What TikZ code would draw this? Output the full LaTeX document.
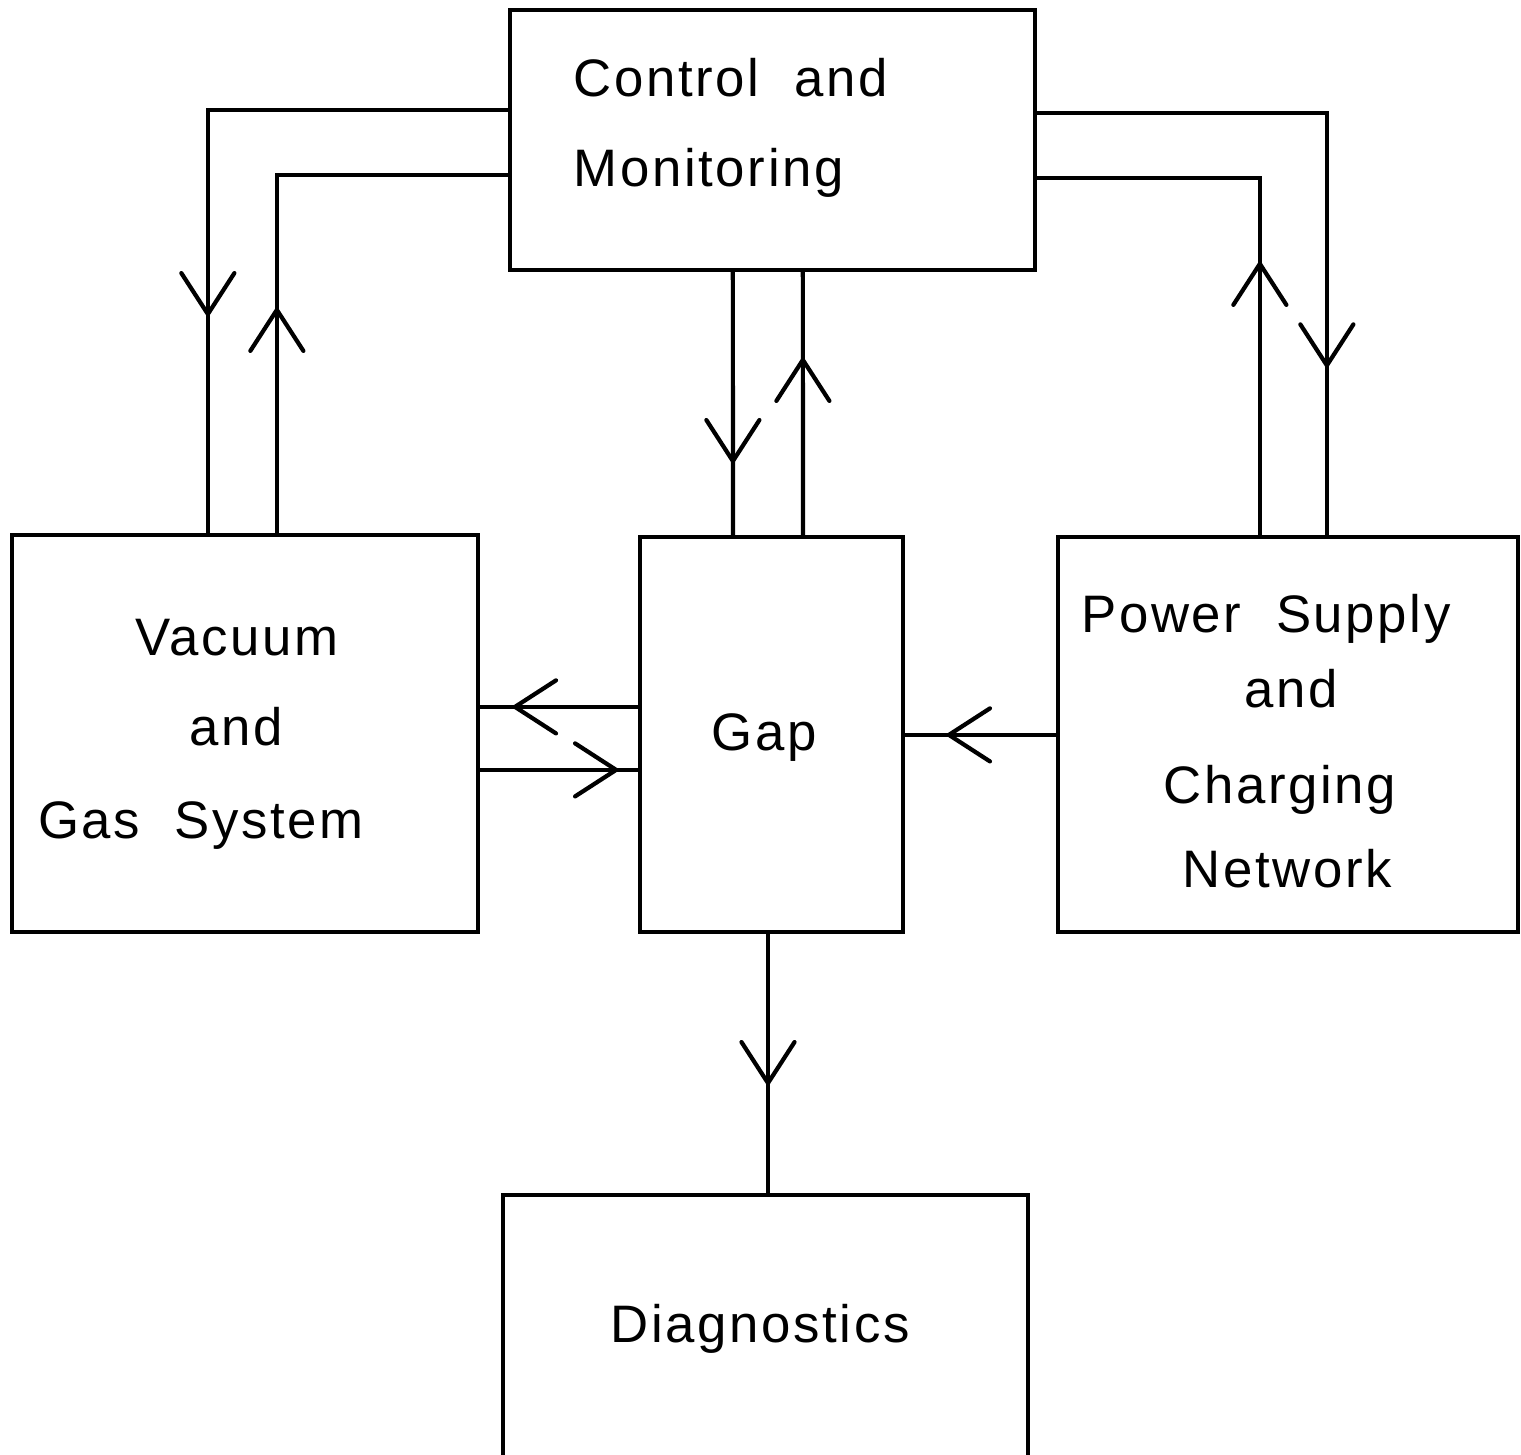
\documentclass[tikz,border=0pt]{standalone}
\usepackage{fontspec}
\setmainfont{Liberation Sans}[LetterSpace=5, WordSpace=2]
\usetikzlibrary{arrows.meta, calc, decorations.markings}

\begin{document}
\begin{tikzpicture}[x=0.01cm, y=-0.01cm,
		flow/.style = {line width=1.2pt},
		barb/.style = {postaction={decorate}, decoration={markings, mark=at position #1 with {\arrow{Straight Barb[length=4.1mm, width=5.3mm, line width=1.2pt, round]}}}}]
		\tikzset{block/.style={draw=black, line width=1.2pt, rectangle, inner sep=0pt, outer sep=0pt}}
		\tikzset{lbl/.style={inner sep=0pt, anchor=base, font=\fontsize{15}{18}\selectfont}}

		\useasboundingbox (0,0) rectangle (1521,1455);
		\clip (0,0) rectangle (1521,1455);

		% Blocks
		\node[block, minimum width=5.25cm, minimum height=2.6cm] (ctrl) at (772.5,140) {};
		\node[block, minimum width=4.66cm, minimum height=3.97cm] (vac) at (245,733.5) {};
		\node[block, minimum width=2.63cm, minimum height=3.95cm] (gap) at (771.5,734.5) {};
		\node[block, minimum width=4.6cm, minimum height=3.95cm] (psu) at (1288,734.5) {};
		\node[block, minimum width=5.25cm, minimum height=3cm] (diag) at (765.5,1345) {};

		% Labels
		\node[lbl, anchor=base west] (ctrl1) at (573,97) {Control and};
		\node[lbl, anchor=base west] (ctrl2) at (573,187) {Monitoring};

		\node[lbl] (vac1) at (237,655) {Vacuum};
		\node[lbl] (vac2) at (236,745) {and};
		\node[lbl] (vac3) at (201,838) {Gas System};

		\node[lbl] (gap1) at (764,750) {Gap};

		\node[lbl] (psu1) at (1266,633) {Power Supply};
		\node[lbl] (psu2) at (1291,707) {and};
		\node[lbl] (psu3) at (1280,803) {Charging};
		\node[lbl] (psu4) at (1287,887) {Network};

		\node[lbl] (diag1) at (760,1342) {Diagnostics};

		% Arrows
		\draw[flow, barb=5.08cm] ($(ctrl.north west)+(0,100)$) -| ($(vac.north west)+(196,0)$);
		\draw[flow, barb=2.27cm] ($(vac.north west)+(265,0)$) |- ($(ctrl.north west)+(0,165)$);

		\draw[flow, barb=1.93cm] ($(ctrl.south west)+(223,0)$) -- ($(gap.north west)+(93,0)$);
		\draw[flow, barb=1.79cm] ($(gap.north west)+(163,0)$) -- ($(ctrl.south west)+(293,0)$);

		\draw[flow, barb=5.46cm] ($(ctrl.north east)+(0,103)$) -| ($(psu.north west)+(269,0)$);
		\draw[flow, barb=2.75cm] ($(psu.north west)+(202,0)$) |- ($(ctrl.north east)+(0,168)$);

		\draw[flow, barb=1.27cm] ($(gap.north west)+(0,170)$) coordinate (g1) -- (g1 -| vac.east);
		\draw[flow, barb=1.40cm] ($(vac.north east)+(0,235)$) coordinate (v1) -- (v1 -| gap.west);
		\draw[flow, barb=1.11cm] ($(psu.north west)+(0,198)$) coordinate (p1) -- (p1 -| gap.east);

		\draw[flow, barb=1.53cm] ($(gap.south)+(-3.5,0)$) coordinate (g2) -- (g2 |- diag.north);

	\end{tikzpicture}
\end{document}
